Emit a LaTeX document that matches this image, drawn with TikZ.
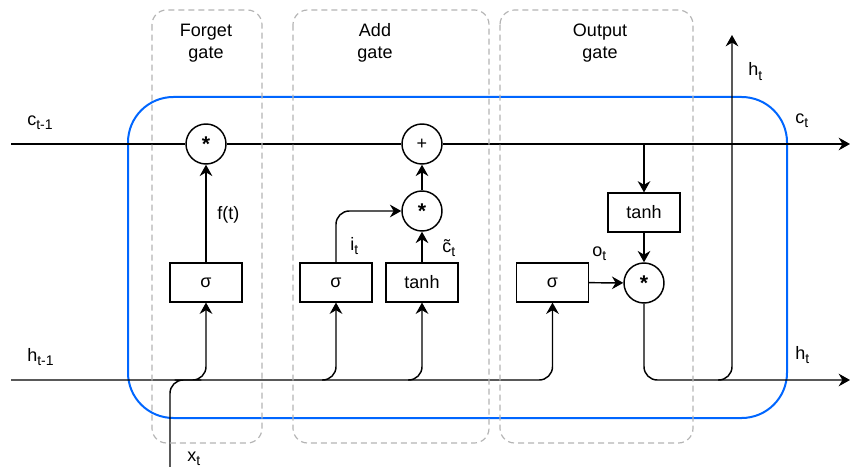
\documentclass[tikz,border=0pt]{standalone}
\usepackage{fontspec}
\setmainfont{Liberation Sans}
\usetikzlibrary{arrows.meta}
\definecolor{cellblue}{RGB}{0,102,255}
\definecolor{gatedash}{RGB}{180,180,180}
% subscript set a little lower and larger than \textsubscript
\newcommand\lowsub[1]{\raisebox{-3.5pt}{\fontsize{10.5}{12}\selectfont #1}}

\begin{document}
\begin{tikzpicture}[x=0.75pt,y=-0.75pt,
  font=\fontsize{13.5}{16.5}\selectfont,
  wire/.style={line width=1.1pt,draw=black},
  arr/.style={wire,-{Stealth[length=8.5pt,width=9.5pt,inset=2.8pt]}},
  op/.style={circle,draw,line width=1.1pt,minimum size=30pt,inner sep=0pt,fill=white},
  layer/.style={rectangle,draw,line width=1.1pt,minimum width=54pt,minimum height=29pt,inner sep=0pt,fill=white},
  gate/.style={draw=gatedash,line width=0.9pt,dash pattern=on 4.5pt off 3pt,rounded corners=11pt},
  gatelabel/.style={align=center},
  lbl/.style={anchor=base west,inner sep=0pt}]

\useasboundingbox (0,0) rectangle (850,467);

% LSTM cell outline
\draw[cellblue,line width=1.5pt,rounded corners=34pt] (128,97) rectangle (787,418);

% operations and layers
\node[op] (fmul) at (206,144) {\fontsize{16}{16}\selectfont\textbf{*}};
\node[op] (add) at (422,144) {+};
\node[op] (imul) at (422,211) {\fontsize{16}{16}\selectfont\textbf{*}};
\node[op] (omul) at (644,283) {\fontsize{16}{16}\selectfont\textbf{*}};
\node[layer] (fsig) at (206,282.5) {σ};
\node[layer] (isig) at (336,282.5) {σ};
\node[layer] (itanh) at (422,282.5) {tanh};
\node[layer] (osig) at (552.5,282.5) {σ};
\node[layer] (otanh) at (644,212.5) {tanh};

% free ends and taps
\coordinate (cin) at (11,144);
\coordinate (cout) at (850,144);
\coordinate (hin) at (11,380);
\coordinate (hout) at (850,380);
\coordinate (xin) at (170,467);
\coordinate (xturn) at (188,380);
\coordinate (htop) at (732,35);
\coordinate (ctap) at (644,144);
\coordinate (itap) at (322,380);
\coordinate (ttap) at (408,380);
\coordinate (htap) at (718,380);

% cell state
\draw[wire] (cin) -- (fmul);
\draw[wire] (fmul) -- (add);
\draw[arr] (add) -- (cout);
\draw[arr] (ctap) -- (otanh);
\draw[arr] (otanh) -- (omul);

% hidden state and input
\draw[arr,rounded corners=10pt] (hin) -| (osig);
\draw[arr,rounded corners=10pt] (itap) -| (isig);
\draw[arr,rounded corners=10pt] (ttap) -| (itanh);
\draw[arr,rounded corners=10pt] (xin) |- (xturn) -| (fsig);

% gate outputs
\draw[arr] (fsig) -- (fmul);
\draw[arr,rounded corners=10pt] (isig.north) |- (imul.west);
\draw[arr] (itanh) -- (imul);
\draw[arr] (imul) -- (add);
\draw[arr] (osig) -- (omul);
\draw[arr,rounded corners=10pt] (omul.south) |- (hout);
\draw[arr,rounded corners=10pt] (htap) -| (htop);

% gate regions
\draw[gate] (152,10) rectangle (262,443);
\draw[gate] (293,10) rectangle (489,443);
\draw[gate] (500,10) rectangle (693,443);
\node[gatelabel] (tforget) at (206,43) {Forget\\gate};
\node[gatelabel] (tadd) at (375,43) {Add\\gate};
\node[gatelabel] (toutput) at (600,43) {Output\\gate};

% signal labels
\node[lbl] (lcprev) at (27,125) {c\lowsub{t-1}};
\node[lbl] (lhprev) at (27,361) {h\lowsub{t-1}};
\node[lbl] (lx) at (187,461) {x\lowsub{t}};
\node[lbl] (lhtop) at (748,76) {h\lowsub{t}};
\node[lbl] (lc) at (795,123) {c\lowsub{t}};
\node[lbl] (lh) at (795,359) {h\lowsub{t}};
\node[lbl] (lf) at (217,219) {f(t)};
\node[lbl] (li) at (350,250) {i\lowsub{t}};
\node[lbl] (lct) at (442,252) {\~{c}\lowsub{t}};
\node[lbl] (lo) at (592,256) {o\lowsub{t}};
\end{tikzpicture}
\end{document}
